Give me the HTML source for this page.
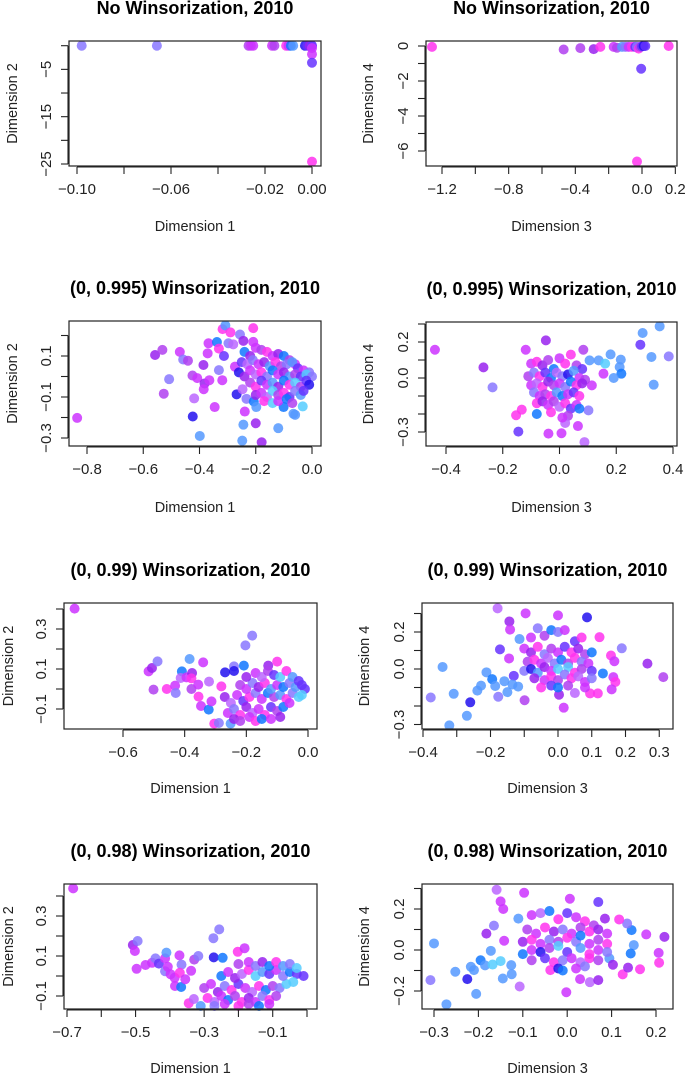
<!DOCTYPE html>
<html><head><meta charset="utf-8"><style>
html,body{margin:0;padding:0;background:#fff;}
svg{display:block;font-family:"Liberation Sans",Arial,sans-serif;}
</style></head><body>
<svg id="fig" width="685" height="1074" viewBox="0 0 685 1074" xmlns="http://www.w3.org/2000/svg"></svg>
<script>
// ---- data ----
const palette = ["#ff33ee","#cc33ff","#b040f0","#9922ee","#6633ff","#2211ee","#1177ff","#5599ff","#55ccff","#bb66ff","#8877ff"];

const pts1 = [[-0.098,0,10],[-0.066,0,10],[-0.027,0,2],[-0.026,0,1],[-0.025,0,1],[-0.017,0,1],[-0.016,0,2],[-0.011,0,0],[-0.010,0,1],[-0.009,0,6],[-0.008,0,7],[-0.003,0,5],[-0.002,0,4],[-0.001,0,3],[0,0,10],[0,0,4],[0,-0.5,1],[0,-1.8,1],[0,-3.6,4],[0,-24.5,0]];

const pts2 = [[-1.26,-0.05,0],[-0.47,-0.2,2],[-0.37,-0.12,2],[-0.29,-0.18,3],[-0.25,-0.05,0],[-0.17,-0.05,1],[-0.15,-0.1,2],[-0.12,-0.05,7],[-0.1,-0.05,10],[-0.08,-0.05,1],[-0.06,-0.05,0],[-0.04,-0.05,4],[-0.03,-0.05,10],[-0.02,-0.15,0],[-0.01,-0.05,2],[0,-0.02,4],[0.01,0,5],[0.02,0,4],[-0.005,-1.3,4],[-0.03,-6.6,0],[0.16,0,0]];

const pts3 = [[-0.835,-0.202,1],[-0.558,0.105,3],[-0.532,0.13,2],[-0.508,-0.013,10],[-0.527,-0.084,2],[-0.47,0.12,1],[-0.458,0.083,10],[-0.441,0.077,2],[-0.425,0.005,2],[-0.408,-0.008,1],[-0.419,-0.107,9],[-0.424,-0.195,5],[-0.399,-0.29,7],[-0.386,0.056,3],[-0.382,-0.034,3],[-0.385,-0.062,1],[-0.368,0.162,1],[-0.371,0.113,1],[-0.365,-0.018,1],[-0.346,-0.149,1],[-0.338,0.168,6],[-0.331,0.136,0],[-0.331,0.031,10],[-0.319,-0.018,1],[-0.318,0.231,0],[-0.308,0.249,7],[-0.297,0.162,10],[-0.313,0.1,4],[-0.29,0.215,0],[-0.28,0.157,9],[-0.274,0.048,1],[-0.268,-0.087,5],[-0.256,0.205,10],[-0.244,0.174,3],[-0.247,-0.062,9],[-0.233,-0.109,10],[-0.239,-0.171,1],[-0.244,-0.235,7],[-0.248,-0.313,7],[-0.209,0.236,0],[-0.209,0.169,1],[-0.207,-0.122,6],[-0.198,-0.149,7],[-0.2,-0.228,3],[-0.179,-0.321,3],[-0.12,-0.252,7],[-0.066,-0.182,7],[-0.06,-0.187,7],[-0.033,-0.146,8],[-0.101,-0.149,6],
[-0.24,0.12,6],[-0.22,0.1,3],[-0.2,0.14,1],[-0.18,0.13,2],[-0.16,0.12,0],[-0.14,0.1,1],[-0.12,0.11,3],[-0.1,0.1,6],[-0.08,0.08,2],[-0.06,0.06,1],
[-0.25,0.07,4],[-0.23,0.06,9],[-0.21,0.08,10],[-0.19,0.06,1],[-0.17,0.07,3],[-0.15,0.05,7],[-0.13,0.07,0],[-0.11,0.05,2],[-0.09,0.06,10],[-0.07,0.07,7],[-0.05,0.04,4],[-0.03,0.03,1],[-0.01,0.02,10],
[-0.26,0.02,5],[-0.24,0.0,3],[-0.22,0.03,1],[-0.2,0.01,9],[-0.18,0.02,0],[-0.16,0.0,10],[-0.14,0.03,6],[-0.12,0.01,1],[-0.1,0.02,3],[-0.08,0.0,7],[-0.06,0.01,2],[-0.04,0.0,4],[-0.02,0.01,8],[0,0.0,10],
[-0.22,-0.03,2],[-0.2,-0.05,0],[-0.18,-0.02,4],[-0.16,-0.04,1],[-0.14,-0.03,7],[-0.12,-0.05,3],[-0.1,-0.02,6],[-0.08,-0.04,0],[-0.06,-0.03,8],[-0.04,-0.05,2],[-0.02,-0.02,4],[-0.01,-0.04,5],
[-0.2,-0.09,3],[-0.18,-0.08,1],[-0.16,-0.1,9],[-0.14,-0.07,8],[-0.12,-0.09,2],[-0.1,-0.08,0],[-0.08,-0.1,4],[-0.06,-0.07,10],[-0.04,-0.09,7],[-0.03,-0.07,4],
[-0.17,-0.12,0],[-0.14,-0.13,8],[-0.12,-0.12,1],[-0.09,-0.11,6],[-0.07,-0.13,2]];

const pts4 = [[-0.439,0.157,1],[-0.268,0.059,3],[-0.236,-0.052,10],[-0.153,-0.207,0],[-0.133,-0.176,0],[-0.145,-0.298,4],[-0.119,0.157,1],[-0.048,0.209,3],[-0.039,-0.309,1],[0.007,-0.307,1],[0.088,-0.356,9],[0.065,-0.267,1],[0.102,-0.18,10],[0.114,-0.041,1],[0.084,0.157,2],[0.106,0.098,7],[0.138,0.098,7],[0.161,0.08,8],[0.18,0.131,7],[0.212,0.061,7],[0.216,0.102,7],[0.218,0.024,6],[0.191,0,7],[0.285,0.185,4],[0.293,0.25,7],[0.353,0.287,7],[0.324,0.117,7],[0.385,0.12,10],[0.332,-0.037,7],[0.155,0.024,1],
[-0.1,0.08,1],[-0.08,0.09,0],[-0.06,0.07,3],[-0.04,0.1,2],[-0.02,0.05,6],[0,0.11,1],[0.02,0.08,0],[0.04,0.13,0],[0.06,0.07,2],[0.08,0.05,4],
[-0.11,0.01,2],[-0.09,0.03,10],[-0.07,0.01,0],[-0.05,0.03,4],[-0.03,0.0,6],[-0.01,0.03,9],[0.01,0.01,10],[0.03,0.02,5],[0.05,0.04,7],[0.07,0.0,1],[0.09,-0.01,2],
[-0.1,-0.04,1],[-0.08,-0.03,9],[-0.06,-0.05,0],[-0.04,-0.02,3],[-0.02,-0.04,2],[0,-0.03,1],[0.02,-0.05,10],[0.04,-0.02,6],[0.06,-0.04,0],[0.08,-0.03,3],
[-0.09,-0.08,10],[-0.07,-0.1,1],[-0.05,-0.09,2],[-0.03,-0.1,0],[-0.01,-0.08,7],[0.01,-0.1,6],[0.03,-0.09,1],[0.05,-0.08,4],[0.07,-0.1,0],
[-0.08,-0.14,0],[-0.06,-0.13,3],[-0.04,-0.15,1],[-0.02,-0.13,2],[0,-0.16,9],[0.02,-0.14,0],[0.04,-0.17,4],[0.06,-0.15,1],[-0.08,-0.2,6],[-0.03,-0.19,0],[0.03,-0.21,2],[0.07,-0.17,6],[0.02,-0.25,9],[0.01,-0.22,1]];

const pts5 = [[-0.757,0.402,1],[-0.181,0.267,10],[-0.203,0.218,10],[-0.517,0.088,1],[-0.506,0.105,3],[-0.488,0.138,10],[-0.501,-0.003,2],[-0.458,0,0],[-0.431,0.017,1],[-0.429,-0.02,10],[-0.409,0.088,6],[-0.413,0.055,9],[-0.394,0.058,1],[-0.384,0.15,7],[-0.376,0.08,3],[-0.378,0.053,0],[-0.378,0,2],[-0.356,0.022,1],[-0.355,-0.038,0],[-0.347,-0.085,1],[-0.34,0.133,1],[-0.321,0.037,9],[-0.322,-0.103,6],[-0.313,-0.062,1],[-0.304,-0.173,0],[-0.289,-0.17,10],[-0.251,-0.173,7],[-0.281,0.013,0],[-0.269,0.083,5],[-0.24,0.113,10],[-0.208,0.117,6],[-0.129,0.117,3],[-0.1,0.137,0],
[-0.27,-0.04,3],[-0.25,-0.07,9],[-0.23,-0.03,1],[-0.21,-0.06,4],[-0.19,-0.04,0],[-0.17,-0.02,10],[-0.15,-0.05,1],[-0.13,-0.02,6],[-0.11,-0.04,2],[-0.09,-0.03,7],[-0.07,-0.05,0],[-0.05,-0.02,10],[-0.03,-0.04,8],
[-0.26,-0.12,1],[-0.24,-0.1,10],[-0.22,-0.13,0],[-0.2,-0.09,3],[-0.18,-0.12,9],[-0.16,-0.1,1],[-0.14,-0.13,0],[-0.12,-0.09,4],[-0.1,-0.11,2],[-0.08,-0.09,6],[-0.06,-0.07,1],
[-0.24,-0.15,3],[-0.22,-0.16,2],[-0.19,-0.14,1],[-0.17,-0.16,0],[-0.15,-0.15,6],[-0.12,-0.15,1],[-0.09,-0.14,3],
[-0.22,0.02,2],[-0.2,0.0,1],[-0.18,0.03,10],[-0.16,0.01,3],[-0.14,0.03,0],[-0.12,0.0,7],[-0.1,0.02,1],[-0.08,0.01,6],[-0.06,0.03,10],[-0.04,0.01,7],[-0.02,0.02,4],[-0.01,0.0,4],
[-0.2,0.06,3],[-0.17,0.08,1],[-0.15,0.06,9],[-0.13,0.09,2],[-0.11,0.07,4],[-0.09,0.06,8],[-0.07,0.09,0],[-0.05,0.06,7],[-0.03,0.04,4],[-0.02,-0.03,8],[-0.24,0.09,5]];

const pts6 = [[-0.377,-0.154,10],[-0.342,0.011,7],[-0.322,-0.305,7],[-0.309,-0.134,7],[-0.27,-0.253,7],[-0.26,-0.18,5],[-0.239,-0.117,7],[-0.228,-0.09,7],[-0.212,-0.018,7],[-0.195,-0.055,6],[-0.186,-0.092,7],[-0.177,-0.15,10],[-0.179,0.328,9],[-0.172,0.106,4],[-0.159,-0.066,7],[-0.15,-0.125,7],[-0.144,0.257,3],[-0.142,0.213,1],[-0.145,0.057,1],[-0.131,-0.037,4],[-0.135,-0.084,7],[-0.118,-0.095,7],[-0.114,0.162,7],[-0.099,-0.169,2],[-0.096,0.301,1],[0,0.29,1],[0.086,0.279,5],[0.017,-0.209,1],[0.003,-0.139,3],[0.123,0.172,0],[0.189,0.112,10],[0.157,0.073,0],[0.167,0.042,1],[0.164,-0.044,1],[0.17,-0.07,0],[0.159,-0.11,1],[0.118,-0.132,0],[0.095,-0.132,0],[0.265,0.029,3],[0.312,-0.044,2],[0.133,-0.024,6],
[-0.08,0.17,1],[-0.06,0.22,10],[-0.04,0.18,2],[-0.02,0.21,6],[0,0.2,10],[0.02,0.21,1],[0.05,0.15,4],[0.07,0.17,0],
[-0.1,0.11,1],[-0.08,0.09,3],[-0.06,0.12,0],[-0.04,0.08,10],[-0.02,0.11,2],[0,0.09,1],[0.02,0.12,4],[0.04,0.09,0],[0.06,0.11,3],[0.08,0.08,2],[0.1,0.09,6],
[-0.09,0.04,2],[-0.07,0.05,0],[-0.05,0.03,1],[-0.03,0.06,9],[-0.01,0.03,10],[0.01,0.05,6],[0.03,0.03,2],[0.05,0.06,0],[0.07,0.04,10],[0.09,0.03,1],
[-0.1,-0.01,10],[-0.08,0.0,5],[-0.06,-0.02,7],[-0.04,0.01,3],[-0.02,-0.01,1],[0,0.0,8],[0.03,0.01,8],[0.05,-0.02,0],[0.07,0.0,2],[0.1,-0.01,4],
[-0.07,-0.05,3],[-0.04,-0.06,1],[-0.02,-0.04,0],[0,-0.06,2],[0.02,-0.03,10],[0.04,-0.05,0],[0.06,-0.04,9],[0.08,-0.07,1],[0.1,-0.05,10],
[-0.05,-0.1,0],[-0.02,-0.09,4],[0,-0.1,6],[0.03,-0.09,2],[0.05,-0.13,9],[0.08,-0.1,1]];

const pts7 = [[-0.682,0.438,1],[-0.256,0.233,10],[-0.273,0.189,10],[-0.508,0.155,3],[-0.494,0.175,10],[-0.502,0.125,1],[-0.497,0.036,1],[-0.471,0.055,1],[-0.452,0.066,1],[-0.442,0.088,10],[-0.432,0.062,4],[-0.414,0.088,1],[-0.41,0.117,7],[-0.414,0.024,10],[-0.406,0.046,1],[-0.398,0.009,1],[-0.385,-0.05,1],[-0.386,-0.009,1],[-0.372,0.103,1],[-0.366,0.057,10],[-0.371,0.016,0],[-0.367,-0.055,6],[-0.355,-0.016,1],[-0.345,-0.136,0],[-0.338,0.026,1],[-0.329,0.082,2],[-0.317,0.1,10],[-0.31,-0.15,7],[-0.33,-0.115,9],[-0.272,0.093,5],[-0.246,0.091,6],[-0.202,0.121,0],[-0.182,0.139,1],
[-0.3,-0.06,2],[-0.28,-0.04,1],[-0.26,-0.08,3],[-0.24,-0.05,10],[-0.22,-0.07,0],[-0.2,-0.04,4],[-0.18,-0.06,1],[-0.16,-0.08,9],[-0.14,-0.05,0],[-0.12,-0.07,6],[-0.1,-0.05,2],[-0.08,-0.06,10],[-0.06,-0.04,8],
[-0.29,-0.11,0],[-0.27,-0.13,9],[-0.25,-0.1,1],[-0.23,-0.12,6],[-0.21,-0.1,2],[-0.19,-0.13,0],[-0.17,-0.11,3],[-0.15,-0.13,1],[-0.13,-0.1,10],[-0.11,-0.12,0],[-0.09,-0.1,2],
[-0.27,-0.15,10],[-0.24,-0.14,1],[-0.2,-0.15,0],[-0.17,-0.14,2],[-0.14,-0.15,6],[-0.11,-0.14,1],
[-0.25,0.0,6],[-0.23,0.02,1],[-0.21,-0.01,3],[-0.19,0.01,9],[-0.17,0.03,0],[-0.15,0.0,8],[-0.13,0.02,7],[-0.11,0.01,4],[-0.09,0.03,1],[-0.07,0.0,10],[-0.05,0.02,6],[-0.03,0.01,4],[-0.01,0.0,4],
[-0.2,0.06,2],[-0.17,0.07,1],[-0.15,0.05,10],[-0.13,0.07,3],[-0.11,0.05,6],[-0.09,0.07,0],[-0.07,0.05,7],[-0.05,0.06,10],[-0.03,0.04,8],[-0.04,-0.03,8]];

const pts8 = [[-0.308,-0.147,10],[-0.3,0.032,7],[-0.272,-0.265,7],[-0.252,-0.106,7],[-0.225,-0.142,5],[-0.217,-0.082,7],[-0.21,-0.098,7],[-0.205,-0.214,7],[-0.195,-0.05,6],[-0.185,-0.075,7],[-0.172,-0.004,7],[-0.168,-0.071,8],[-0.15,-0.054,8],[-0.145,-0.139,7],[-0.125,-0.118,7],[-0.126,-0.074,7],[-0.107,-0.178,9],[-0.182,0.08,3],[-0.165,0.119,10],[-0.159,0.294,9],[-0.15,0.237,1],[-0.144,0.2,1],[-0.142,0.045,1],[-0.11,0.153,7],[-0.097,0.279,1],[0.006,0.25,1],[0.07,0.234,4],[-0.002,-0.206,1],[-0.038,-0.098,0],[0.029,-0.142,1],[0.051,-0.157,9],[0.07,-0.147,3],[0.125,-0.119,0],[0.137,-0.086,3],[0.164,-0.094,0],[0.207,-0.062,0],[0.206,-0.014,1],[0.219,0.064,3],[0.178,0.076,1],[0.145,0.097,6],[0.135,0.129,10],[0.117,0.149,0],[0.085,0.153,3],[0.15,0.024,7],[0.143,-0.017,6],[0.095,-0.041,7],[0.103,-0.072,3],
[-0.08,0.17,1],[-0.06,0.18,9],[-0.04,0.19,6],[-0.02,0.15,0],[0,0.18,4],[0.02,0.16,1],[0.04,0.14,0],[0.06,0.12,2],
[-0.09,0.1,2],[-0.07,0.08,1],[-0.05,0.11,0],[-0.03,0.09,3],[-0.01,0.1,10],[0.01,0.08,1],[0.03,0.11,2],[0.05,0.09,0],[0.07,0.1,3],[0.09,0.08,1],
[-0.1,0.04,3],[-0.08,0.05,0],[-0.06,0.03,1],[-0.04,0.05,10],[-0.02,0.04,2],[0,0.06,0],[0.02,0.04,10],[0.03,0.07,6],[0.05,0.03,1],[0.07,0.05,2],[0.09,0.03,0],
[-0.1,-0.02,6],[-0.08,0.0,1],[-0.06,-0.01,5],[-0.04,0.01,2],[-0.02,0.02,8],[0,-0.01,4],[0.03,0.01,7],[0.05,-0.02,0],[0.07,0.0,1],[0.09,-0.01,10],
[-0.08,-0.05,2],[-0.05,-0.04,4],[-0.03,-0.06,0],[-0.01,-0.05,10],[0.01,-0.04,1],[0.03,-0.06,9],[0.05,-0.04,0],[0.07,-0.05,2],
[-0.02,-0.09,5],[-0.01,-0.1,6],[0.02,-0.09,1],[0.04,-0.08,10]];

const titles = ["No Winsorization, 2010","No Winsorization, 2010","(0, 0.995) Winsorization, 2010","(0, 0.995) Winsorization, 2010","(0, 0.99) Winsorization, 2010","(0, 0.99) Winsorization, 2010","(0, 0.98) Winsorization, 2010","(0, 0.98) Winsorization, 2010"];
const xTicks1 = [-0.10,-0.08,-0.06,-0.04,-0.02,0], xLabs1 = ["−0.10","","−0.06","","−0.02","0.00"];
const yTicks1 = [0,-5,-10,-15,-20,-25], yLabs1 = ["","−5","","−15","","−25"];
const xTicks2 = [-1.2,-1.0,-0.8,-0.6,-0.4,-0.2,0,0.2], xLabs2 = ["−1.2","","−0.8","","−0.4","","0.0","0.2"];
const yTicks2 = [0,-1,-2,-3,-4,-5,-6], yLabs2 = ["0","","−2","","−4","","−6"];
const xTicks3 = [-0.8,-0.6,-0.4,-0.2,0], xLabs3 = ["−0.8","−0.6","−0.4","−0.2","0.0"];
const yTicks3 = [0.2,0.1,0,-0.1,-0.2,-0.3], yLabs3 = ["","0.1","","−0.1","","−0.3"];
const xTicks4 = [-0.4,-0.2,0,0.2,0.4], xLabs4 = ["−0.4","−0.2","0.0","0.2","0.4"];
const yTicks4 = [0.3,0.2,0.1,0,-0.1,-0.2,-0.3], yLabs4 = ["","0.2","","0.0","","","−0.3"];
const xTicks5 = [-0.6,-0.4,-0.2,0], xLabs5 = ["−0.6","−0.4","−0.2","0.0"];
const yTicks5 = [0.4,0.3,0.2,0.1,0,-0.1], yLabs5 = ["","0.3","","0.1","","−0.1"];
const xTicks6 = [-0.4,-0.3,-0.2,-0.1,0,0.1,0.2,0.3], xLabs6 = ["−0.4","","−0.2","","0.0","0.1","0.2","0.3"];
const yTicks6 = [0.3,0.2,0.1,0,-0.1,-0.2,-0.3], yLabs6 = ["","0.2","","0.0","","","−0.3"];
const xTicks7 = [-0.7,-0.6,-0.5,-0.4,-0.3,-0.2,-0.1,0], xLabs7 = ["−0.7","","−0.5","","−0.3","","−0.1",""];
const yTicks7 = [0.4,0.3,0.2,0.1,0,-0.1], yLabs7 = ["","0.3","","0.1","","−0.1"];
const xTicks8 = [-0.3,-0.2,-0.1,0,0.1,0.2], xLabs8 = ["−0.3","−0.2","−0.1","0.0","0.1","0.2"];
const yTicks8 = [0.3,0.2,0.1,0,-0.1,-0.2], yLabs8 = ["","0.2","","0.0","","−0.2"];

// ---- layout (geometry: box and two calibration ticks per axis) ----
const panels = [
 {pts:pts1,xt:xTicks1,xl:xLabs1,yt:yTicks1,yl:yLabs1,box:[69,41,321,166],xc:[-0.10,77,0,312],yc:[0,45.7,-25,164],xn:"Dimension 1",yn:"Dimension 2",ylx:12,xly:226},
 {pts:pts2,xt:xTicks2,xl:xLabs2,yt:yTicks2,yl:yLabs2,box:[426,41,677,166],xc:[-1.2,442,0,642],yc:[0,46,-6,151],xn:"Dimension 3",yn:"Dimension 4",ylx:368,xly:226},
 {pts:pts3,xt:xTicks3,xl:xLabs3,yt:yTicks3,yl:yLabs3,box:[69,321,321,446],xc:[-0.8,87,0,312],yc:[0.1,356,-0.1,397],xn:"Dimension 1",yn:"Dimension 2",ylx:12,xly:507},
 {pts:pts4,xt:xTicks4,xl:xLabs4,yt:yTicks4,yl:yLabs4,box:[426,322,677,446],xc:[-0.4,446,0.4,673],yc:[0.2,342,0,378],xn:"Dimension 3",yn:"Dimension 4",ylx:368,xly:507},
 {pts:pts5,xt:xTicks5,xl:xLabs5,yt:yTicks5,yl:yLabs5,box:[64,603,317,729],xc:[-0.6,123,0,308],yc:[0.1,669,-0.1,709],xn:"Dimension 1",yn:"Dimension 2",ylx:8,xly:788},
 {pts:pts6,xt:xTicks6,xl:xLabs6,yt:yTicks6,yl:yLabs6,box:[422,603,673,729],xc:[-0.4,423,0,558],yc:[0.2,632,0,669],xn:"Dimension 3",yn:"Dimension 4",ylx:364,xly:788},
 {pts:pts7,xt:xTicks7,xl:xLabs7,yt:yTicks7,yl:yLabs7,box:[64,884,317,1009],xc:[-0.7,67,0,307],yc:[0.1,956,-0.1,996],xn:"Dimension 1",yn:"Dimension 2",ylx:8,xly:1068},
 {pts:pts8,xt:xTicks8,xl:xLabs8,yt:yTicks8,yl:yLabs8,box:[422,884,673,1009],xc:[-0.3,434,0.2,656],yc:[0.2,909,0,950],xn:"Dimension 3",yn:"Dimension 4",ylx:364,xly:1068}
];

const NS = "http://www.w3.org/2000/svg";
const svg = document.getElementById("fig");
function mk(tag, attrs, parent){
  const e = document.createElementNS(NS, tag);
  for (const k in attrs) e.setAttribute(k, attrs[k]);
  parent.appendChild(e);
  return e;
}
function scale(c){ const m=(c[3]-c[1])/(c[2]-c[0]); return v => c[1]+(v-c[0])*m; }

panels.forEach((p, i) => {
  const g = mk("g", {}, svg);
  
  
  const [L,T,R,B] = p.box;
  const sx = scale(p.xc), sy = scale(p.yc);
  const cx = (L+R)/2, cy = (T+B)/2;

  const t = mk("text", {x:cx, y:T-27, "text-anchor":"middle", "font-size":"18", "font-weight":"bold", fill:"#000"}, g);
  t.textContent = titles[i];
  
  

  const pg = mk("g", {}, g);
  
  
  p.pts.forEach(d => {
    const c = mk("circle", {cx:sx(d[0]), cy:sy(d[1]), r:5, fill:palette[d[2]], "fill-opacity":0.85}, pg);
    
    
  });

  const box = mk("rect", {x:L, y:T, width:R-L, height:B-T, fill:"none", stroke:"#222", "stroke-width":1.2}, g);
  
  

  const xa = mk("g", {}, g);
  
  
  const xs = p.xt.map(sx);
  mk("line", {x1:Math.min(...xs), x2:Math.max(...xs), y1:B+1, y2:B+1, stroke:"#222", "stroke-width":1.1}, xa);
  p.xt.forEach((v,k) => {
    mk("line", {x1:sx(v), x2:sx(v), y1:B+1, y2:B+8, stroke:"#222", "stroke-width":1.1}, xa);
    if (p.xl[k]) {
      const tl = mk("text", {x:sx(v), y:B+28, "text-anchor":"middle", "font-size":"15", fill:"#222"}, xa);
      tl.textContent = p.xl[k];
      
      
    }
  });
  const xl = mk("text", {x:cx, y:p.xly+5, "text-anchor":"middle", "font-size":"14.5", fill:"#222"}, g);
  xl.textContent = p.xn;
  
  

  const ya = mk("g", {}, g);
  
  
  const ys = p.yt.map(sy);
  mk("line", {x1:L-1, x2:L-1, y1:Math.min(...ys), y2:Math.max(...ys), stroke:"#222", "stroke-width":1.1}, ya);
  p.yt.forEach((v,k) => {
    mk("line", {x1:L-8, x2:L-1, y1:sy(v), y2:sy(v), stroke:"#222", "stroke-width":1.1}, ya);
    if (p.yl[k]) {
      const tx = L-18, ty = sy(v);
      const tl = mk("text", {x:tx, y:ty, "text-anchor":"middle", "font-size":"15", fill:"#222", transform:`rotate(-90 ${tx} ${ty})`}, ya);
      tl.textContent = p.yl[k];
      
      
    }
  });
  const yx = p.ylx+5;
  const yl = mk("text", {x:yx, y:cy, "text-anchor":"middle", "font-size":"14.5", fill:"#222", transform:`rotate(-90 ${yx} ${cy})`}, g);
  yl.textContent = p.yn;
  
  
});
</script>
</body></html>
